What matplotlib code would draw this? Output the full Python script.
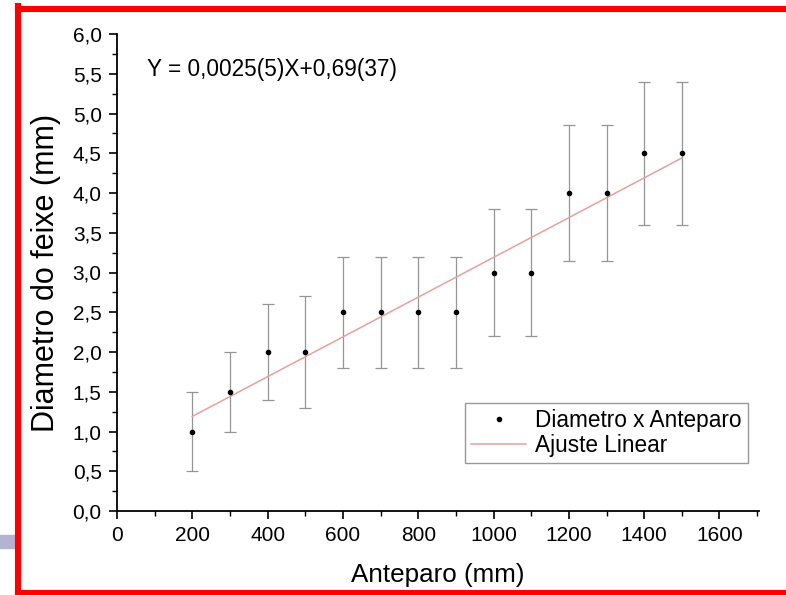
import numpy as np
import matplotlib.pyplot as plt
from matplotlib.ticker import MultipleLocator, FuncFormatter
from matplotlib.patches import Rectangle
from matplotlib.lines import Line2D

plt.rcParams['font.family'] = ['Liberation Sans', 'DejaVu Sans']

# Data
anteparo = [200, 300, 400, 500, 600, 700, 800, 900, 1000, 1100, 1200, 1300, 1400, 1500]
diametro = [1.0, 1.5, 2.0, 2.0, 2.5, 2.5, 2.5, 2.5, 3.0, 3.0, 4.0, 4.0, 4.5, 4.5]
erro = [0.5, 0.5, 0.6, 0.7, 0.7, 0.7, 0.7, 0.7, 0.8, 0.8, 0.85, 0.85, 0.9, 0.9]

# linear fit from the annotation
slope = 0.0025
intercept = 0.69
fit_range = [200, 1500]

fig = plt.figure(figsize=(7.86, 5.95), dpi=100)
ax = fig.add_axes([117 / 786, 84 / 595, (759 - 117) / 786, (511 - 34) / 595])

ax.errorbar(anteparo, diametro, yerr=erro, fmt='none', ecolor='#959595',
            elinewidth=0.9, capsize=4, capthick=0.9, zorder=2)
ax.plot(anteparo, diametro, 'o', color='black', markersize=3,
        label='Diametro x Anteparo', zorder=4)
xf = np.array(fit_range)
ax.plot(xf, slope * xf + intercept, color='#e8a0a0', linewidth=1.1,
        label='Ajuste Linear', zorder=3)

ax.set_xlim(0, 1705)
ax.set_ylim(0, 6.0)
ax.xaxis.set_major_locator(MultipleLocator(200))
ax.xaxis.set_minor_locator(MultipleLocator(100))
ax.yaxis.set_major_locator(MultipleLocator(0.5))
ax.yaxis.set_minor_locator(MultipleLocator(0.25))
ax.yaxis.set_major_formatter(FuncFormatter(lambda v, p: f'{v:.1f}'.replace('.', ',')))

for s in ['top', 'right']:
    ax.spines[s].set_visible(False)
for s in ['left', 'bottom']:
    ax.spines[s].set_linewidth(1.3)

ax.tick_params(which='major', direction='out', length=6, width=1.2, labelsize=15, pad=5)
ax.tick_params(which='minor', direction='out', length=3.5, width=1.0)

ax.set_xlabel('Anteparo (mm)', fontsize=18.7, labelpad=13)
ax.set_ylabel('Diametro do feixe (mm)', fontsize=22, labelpad=8)

ax.text(80, 5.55, 'Y = 0,0025(5)X+0,69(37)', fontsize=16.3, va='center', ha='left')

leg = ax.legend(loc='lower right', bbox_to_anchor=(0.983, 0.10), borderaxespad=0,
                fontsize=16.3, frameon=True, fancybox=False, handlelength=2.4,
                handletextpad=0.4, borderpad=0.3, labelspacing=0.05, markerscale=1.0)
leg.get_frame().set_edgecolor('#808080')
leg.get_frame().set_linewidth(1.0)

# slide frame
W, H = 786, 595
red = '#ff0000'
fig.add_artist(Line2D([18 / W, 1.02], [1 - 9 / H, 1 - 9 / H], color=red, linewidth=4.4,
                      transform=fig.transFigure))
fig.add_artist(Line2D([18 / W, 1.02], [1 - 593 / H, 1 - 593 / H], color=red, linewidth=4.4,
                      transform=fig.transFigure))
fig.add_artist(Line2D([18 / W, 18 / W], [1 - 6 / H, 1 - 596 / H], color=red, linewidth=4.4,
                      transform=fig.transFigure))
fig.add_artist(Rectangle((0, 1 - 548 / H), 15 / W, 13 / H, color='#b4b4d2',
                         transform=fig.transFigure))

fig.savefig('out.png', dpi=100)
